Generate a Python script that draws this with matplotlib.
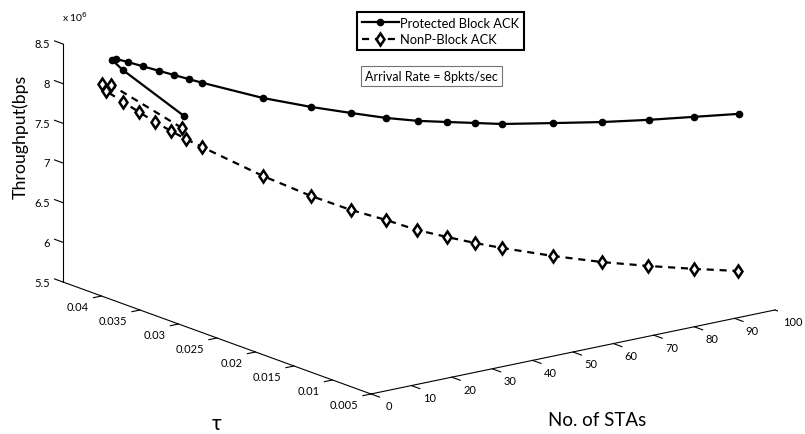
import matplotlib

matplotlib.use("Agg")
import matplotlib.pyplot as plt
import numpy as np
from mpl_toolkits.mplot3d import proj3d

plt.rcParams["font.family"] = ["Lato", "DejaVu Sans"]

# number of stations, transmission probability tau, throughput (x 10^6 bps)
n_stas = [1, 2, 3, 4, 5, 6, 7, 8, 9, 10, 15, 20, 25, 30, 35, 40, 45, 50, 60, 70, 80, 90, 100]
tau_prot = [0.0298, 0.0383, 0.0402, 0.0402, 0.0392, 0.0378, 0.0362, 0.0348, 0.0334, 0.0322, 0.0269, 0.0233,
            0.0207, 0.0188, 0.0173, 0.0161, 0.0151, 0.0142, 0.0128, 0.0117, 0.0109, 0.0103, 0.0097]
thr_prot = [8.118, 8.389, 8.436, 8.438, 8.425, 8.410, 8.398, 8.385, 8.372, 8.358, 8.299, 8.261,
            8.223, 8.175, 8.138, 8.113, 8.083, 8.049, 8.004, 7.950, 7.900, 7.853, 7.806]
tau_nonp = [0.0301, 0.0398, 0.0415, 0.0415, 0.0398, 0.0383, 0.0367, 0.0352, 0.0338, 0.0322, 0.0269, 0.0233,
            0.0207, 0.0188, 0.0174, 0.0161, 0.0151, 0.0142, 0.0128, 0.0117, 0.0110, 0.0103, 0.0098]
thr_nonp = [7.958, 8.145, 8.087, 7.988, 7.899, 7.817, 7.735, 7.666, 7.604, 7.548, 7.316, 7.139,
            7.000, 6.889, 6.759, 6.663, 6.570, 6.486, 6.328, 6.185, 6.055, 5.937, 5.822]

n_ticks = [0, 10, 20, 30, 40, 50, 60, 70, 80, 90, 100]
n_tick_labels = ["0", "10", "20", "30", "40", "50", "60", "70", "80", "90", "100"]
tau_ticks = [0.005, 0.01, 0.015, 0.02, 0.025, 0.03, 0.035, 0.04]
tau_tick_labels = ["0.005", "0.01", "0.015", "0.02", "0.025", "0.03", "0.035", "0.04"]
thr_ticks = [5.5, 6, 6.5, 7, 7.5, 8, 8.5]
thr_tick_labels = ["5.5", "6", "6.5", "7", "7.5", "8", "8.5"]

labels = ["Protected Block ACK", "NonP-Block ACK"]

N0, N1 = 0, 100
T0, T1 = 0.005, 0.045
Z0, Z1 = 5.5, 8.5

W, H = 805, 435
fig = plt.figure(figsize=(W / 100, H / 100), dpi=100)
ax = fig.add_axes([0, 0, H / W, 1], projection="3d", proj_type="ortho")
ax.view_init(elev=15.96, azim=-127.1)
ax.set_box_aspect((1, 1.008, 0.4887))
ax.set_xlim(N0, N1)
ax.set_ylim(T0, T1)
ax.set_zlim(Z0, Z1)
ax.set_axis_off()

# matlab-style axis lines and outward ticks
axis_kw = dict(color="black", lw=0.8)
ax.plot([N0, N1], [T0, T0], [Z0, Z0], **axis_kw)
ax.plot([N0, N0], [T0, T1], [Z0, Z0], **axis_kw)
ax.plot([N0, N0], [T1, T1], [Z0, Z1], **axis_kw)
for n in n_ticks:
    ax.plot([n, n], [T0, T0 - 0.0011], [Z0, Z0], **axis_kw)
for t in tau_ticks:
    ax.plot([N0, N0 - 2], [t, t], [Z0, Z0], **axis_kw)
for z in thr_ticks:
    ax.plot([N0, N0], [T1, T1 + 0.0011], [z, z], **axis_kw)

line_prot, = ax.plot(n_stas, tau_prot, thr_prot, color="black", lw=1.6,
                     marker="o", ms=4.5, mfc="black", mec="black")
line_nonp, = ax.plot(n_stas, tau_nonp, thr_nonp, color="black", lw=1.6, ls=(0, (3.2, 2.6)),
                     marker="d", ms=6.5, mfc="white", mec="black", mew=1.8)

# place the 3d box so its corners land where the reference has them
fig.canvas.draw()


def to_px(x, y, z):
    u, v, _ = proj3d.proj_transform(x, y, z, ax.M)
    return np.array(ax.transData.transform((u, v)))


a = to_px(N0, T1, Z0)
c = to_px(N1, T0, Z0)
ta = np.array([63.0, H - 283.0])
tc = np.array([775.0, H - 311.0])
s = np.linalg.norm(tc - ta) / np.linalg.norm(c - a)
bb = ax.get_position().transformed(fig.transFigure)
center = np.array([(bb.x0 + bb.x1) / 2, (bb.y0 + bb.y1) / 2])
new_center = ta - s * (a - center)
size = s * bb.width
ax.set_position([(new_center[0] - size / 2) / W, (new_center[1] - size / 2) / H, size / W, size / H])
fig.canvas.draw()

# tick labels as flat text at their projected spots
tick_fs = 8
for n, lab in zip(n_ticks, n_tick_labels):
    p = to_px(n, T0 - 0.0023, Z0 - 0.07)
    fig.text(p[0] / W, p[1] / H, lab, ha="center", va="center", fontsize=tick_fs)
for t, lab in zip(tau_ticks, tau_tick_labels):
    p = to_px(N0 - 3.2, t, Z0 - 0.1)
    fig.text(p[0] / W, p[1] / H, lab, ha="right", va="center", fontsize=tick_fs)
for z, lab in zip(thr_ticks, thr_tick_labels):
    p = to_px(N0, T1 + 0.0017, z - 0.06)
    fig.text(p[0] / W, p[1] / H, lab, ha="right", va="center", fontsize=tick_fs)

fig.text(62 / W, 1 - 17 / H, r"x 10$^{6}$", fontsize=7.5, ha="left", va="center")
fig.text(20 / W, 1 - 137 / H, "Throughput(bps", fontsize=12.8, rotation=90, ha="center", va="center")
fig.text(597 / W, 1 - 421 / H, "No. of STAs", fontsize=13.5, ha="center", va="center")
fig.text(217 / W, 1 - 424 / H, "τ", fontsize=15, ha="center", va="center")

leg = fig.legend([line_prot, line_nonp], labels, loc="upper left",
                 bbox_to_anchor=(357 / W, 1 - 13 / H), fontsize=9.3, handlelength=2.9,
                 handletextpad=0.1, borderpad=0.35, labelspacing=0.35, borderaxespad=0,
                 fancybox=False, framealpha=1)
leg.get_frame().set_edgecolor("black")
leg.get_frame().set_linewidth(1.5)

fig.text(365 / W, 1 - 77 / H, "Arrival Rate = 8pkts/sec", fontsize=9, ha="left", va="center",
         bbox=dict(boxstyle="square,pad=0.3", fc="white", ec="0.45", lw=0.8))

fig.savefig("out.png", dpi=100)
plt.close(fig)
